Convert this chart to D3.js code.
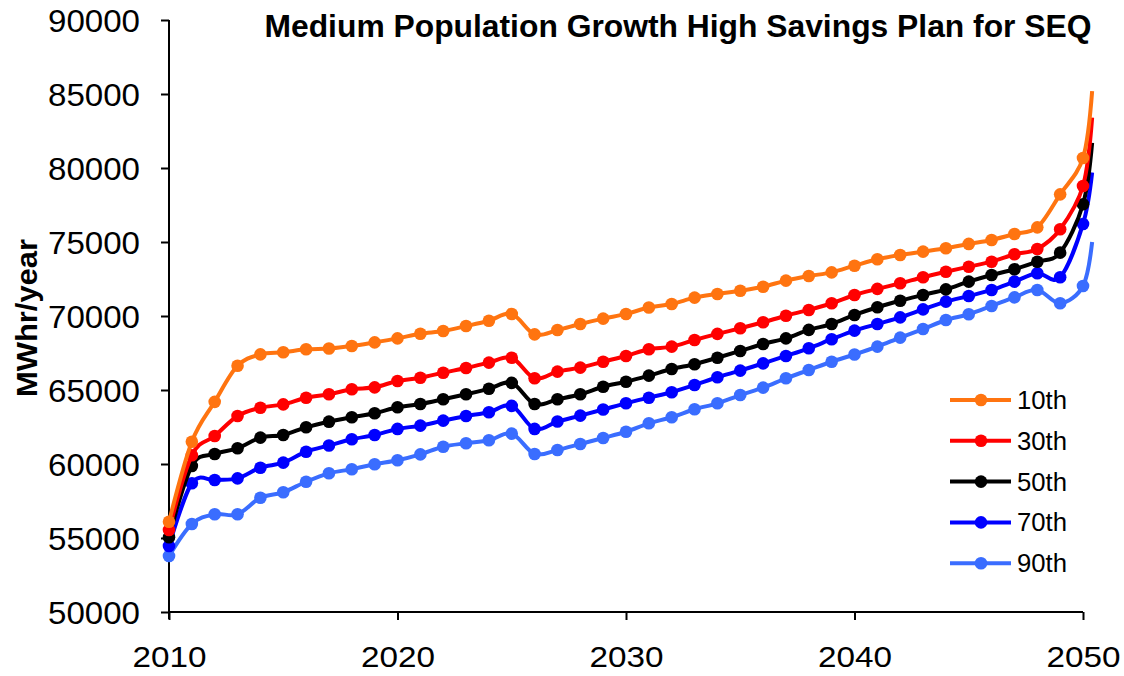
<!DOCTYPE html>
<html>
<head>
<meta charset="utf-8">
<script src="https://cdn.jsdelivr.net/npm/d3@7"></script>
<style>
  body { margin: 0; background: #fff; }
  text { font-family: "Liberation Sans", Arial, sans-serif; }
</style>
</head>
<body>
<div id="chart"></div>
<script>
// years with a marker, plus the last point that runs past 2050
var years = d3.range(2010, 2051);
var endYear = 2050.4;

var p10 = [56100, 61500, 64200, 66640, 67410, 67550, 67750, 67800, 67970, 68220,
           68490, 68800, 68990, 69320, 69680, 70140, 68760, 69050, 69460, 69820,
           70140, 70570, 70810, 71240, 71490, 71710, 71980, 72390, 72700, 72950,
           73400, 73830, 74120, 74350, 74580, 74870, 75140, 75540, 75990, 78220, 80680];
var p30 = [55540, 60590, 61890, 63240, 63800, 64030, 64480, 64710, 65050, 65180,
           65610, 65830, 66170, 66490, 66850, 67180, 65790, 66240, 66510, 66910,
           67300, 67750, 67930, 68380, 68790, 69170, 69580, 70020, 70410, 70860,
           71420, 71830, 72210, 72620, 72990, 73330, 73670, 74170, 74530, 75860, 78780];
var p50 = [55050, 59870, 60680, 61060, 61780, 61960, 62480, 62860, 63160, 63430,
           63830, 64050, 64370, 64710, 65080, 65480, 64050, 64370, 64710, 65220,
           65560, 65970, 66420, 66740, 67180, 67640, 68110, 68490, 69060, 69460,
           70070, 70590, 71030, 71420, 71800, 72320, 72770, 73160, 73670, 74280, 77550];
var p70 = [54460, 58700, 58920, 59030, 59750, 60090, 60830, 61250, 61670, 61960,
           62370, 62590, 62930, 63240, 63500, 63930, 62370, 62870, 63270, 63680,
           64100, 64480, 64850, 65340, 65860, 66310, 66800, 67300, 67820, 68430,
           69010, 69460, 69910, 70450, 70970, 71350, 71760, 72320, 72890, 72620, 76220];
var p90 = [53780, 55950, 56600, 56600, 57720, 58090, 58800, 59370, 59650, 59980,
           60250, 60650, 61170, 61400, 61600, 62050, 60680, 60950, 61350, 61760,
           62180, 62750, 63160, 63700, 64100, 64660, 65160, 65790, 66350, 66910,
           67400, 67930, 68540, 69120, 69730, 70120, 70680, 71260, 71760, 70860, 72030];
var endVals = [85200, 83400, 81700, 79700, 75000];

var names = ["10th", "30th", "50th", "70th", "90th"];
var colors = ["#ff7410", "#ff0000", "#000000", "#0000ff", "#3a6dff"];
var yTicks = [50000, 55000, 60000, 65000, 70000, 75000, 80000, 85000, 90000];
var xTicks = [2010, 2020, 2030, 2040, 2050];

var allSeries = [p10, p30, p50, p70, p90];

var svg = d3.select("#chart").append("svg")
  .attr("width", 1124)
  .attr("height", 676);

var x = d3.scaleLinear().domain([2010, 2050]).range([169, 1083]);
var y = d3.scaleLinear().domain([50000, 90000]).range([612, 20]);

// axes
var yAxis = svg.append("g")
  .attr("transform", "translate(169,0)")
  .call(d3.axisLeft(y).tickValues(yTicks).tickSize(8).tickPadding(21).tickFormat(d3.format("d")));
yAxis.selectAll("text")
  .attr("font-size", 31)
  .attr("fill", "#000")
  .attr("textLength", 92)
  .attr("lengthAdjust", "spacingAndGlyphs")
  .attr("dy", "0.36em");

var xAxis = svg.append("g")
  .attr("transform", "translate(0,612)")
  .call(d3.axisBottom(x).tickValues(xTicks).tickSize(8).tickPadding(26).tickFormat(d3.format("d")));
xAxis.selectAll("text")
  .attr("font-size", 30)
  .attr("fill", "#000")
  .attr("textLength", 74)
  .attr("lengthAdjust", "spacingAndGlyphs");

svg.selectAll(".domain").attr("stroke", "#000").attr("stroke-width", 2);
svg.selectAll(".tick line").attr("stroke", "#000").attr("stroke-width", 2);
// the y axis line runs a little below the x axis, as in the picture
yAxis.select(".domain").attr("d", "M0," + y(90000) + "V" + (y(50000) + 7));
xAxis.select(".domain").attr("d", "M" + x(2010) + ",0H" + x(2050));

// lines
var line = d3.line()
  .x(function(d) { return x(d[0]); })
  .y(function(d) { return y(d[1]); })
  .curve(d3.curveCardinal.tension(0));

// draw the bottom series first so 10th sits on top at the start
for (var s = allSeries.length - 1; s >= 0; s--) {
  var pts = years.map(function(yr, i) { return [yr, allSeries[s][i]]; });
  var full = pts.concat([[endYear, endVals[s]]]);
  svg.append("path")
    .datum(full)
    .attr("d", line)
    .attr("fill", "none")
    .attr("stroke", colors[s])
    .attr("stroke-width", 4);
  svg.selectAll(".m" + s)
    .data(pts)
    .enter().append("circle")
    .attr("cx", function(d) { return x(d[0]); })
    .attr("cy", function(d) { return y(d[1]); })
    .attr("r", 6.3)
    .attr("fill", colors[s]);
}

// title
svg.append("text")
  .attr("x", 678)
  .attr("y", 37)
  .attr("text-anchor", "middle")
  .attr("font-size", 31)
  .attr("font-weight", "bold")
  .attr("textLength", 827)
  .attr("lengthAdjust", "spacingAndGlyphs")
  .text("Medium Population Growth High Savings Plan for SEQ");

// y label
svg.append("text")
  .attr("transform", "translate(37,318) rotate(-90)")
  .attr("text-anchor", "middle")
  .attr("font-size", 29)
  .attr("font-weight", "bold")
  .attr("textLength", 158)
  .attr("lengthAdjust", "spacingAndGlyphs")
  .text("MWhr/year");

// legend
var legend = svg.append("g");
names.forEach(function(n, i) {
  var ly = 400 + i * 40.8;
  legend.append("line")
    .attr("x1", 950).attr("x2", 1011)
    .attr("y1", ly).attr("y2", ly)
    .attr("stroke", colors[i])
    .attr("stroke-width", 4);
  legend.append("circle")
    .attr("cx", 981).attr("cy", ly).attr("r", 6.3)
    .attr("fill", colors[i]);
  legend.append("text")
    .attr("x", 1017).attr("y", ly + 9)
    .attr("font-size", 25)
    .attr("textLength", 50)
    .attr("lengthAdjust", "spacingAndGlyphs")
    .text(n);
});
</script>
</body>
</html>
